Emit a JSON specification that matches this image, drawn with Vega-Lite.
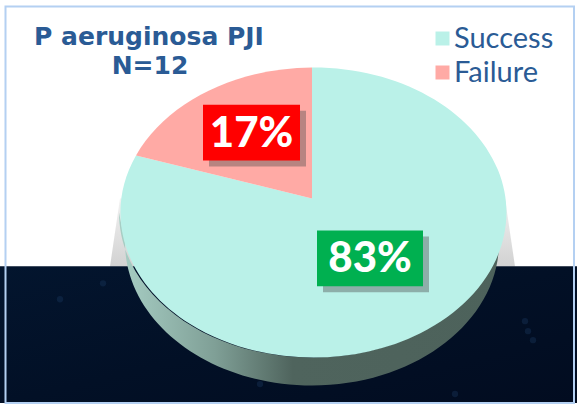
{
"$schema":"https://vega.github.io/schema/vega-lite/v6.json",
"width":577,"height":404,"padding":0,
"autosize":{"type":"fit","contains":"padding"},
"background":"white",
"config":{"view":{"stroke":null}},
"layer":[
{"data":{"values":[{"part":"shadow","cx":312,"cy":199}]},
 "mark":{"type":"point","filled":true,"opacity":1,"size":4,"fill":{"gradient":"linear","x1":0,"y1":0,"x2":0,"y2":1,"stops":[{"offset":0,"color":"#f2f2f2"},{"offset":1,"color":"#d2d2d2"}]},"shape":"M-192,0 L-202,68 L203,68 L193,0 Z"},
 "encoding":{"x":{"field":"cx","type":"quantitative","scale":{"domain":[0,577],"nice":false,"zero":false},"axis":null},
 "y":{"field":"cy","type":"quantitative","scale":{"domain":[404,0],"nice":false,"zero":false},"axis":null}}},
{"data":{"values":[{"x":0,"x2":577,"y":267,"y2":404}]},
 "mark":{"type":"rect","fill":{"gradient":"linear","x1":0,"y1":0,"x2":1,"y2":1,"stops":[{"offset":0,"color":"#03152e"},{"offset":0.5,"color":"#021026"},{"offset":1,"color":"#020c20"}]}},
 "encoding":{"x":{"field":"x","type":"quantitative"},"x2":{"field":"x2"},"y":{"field":"y","type":"quantitative"},"y2":{"field":"y2"}}},
{"data":{"values":[{"x":103,"y":284},{"x":525,"y":322},{"x":528,"y":332},{"x":533,"y":341},{"x":60,"y":300},{"x":260,"y":385},{"x":455,"y":395}]},
 "mark":{"type":"point","filled":true,"color":"#1d3d63","opacity":0.35,"size":40},
 "encoding":{"x":{"field":"x","type":"quantitative"},"y":{"field":"y","type":"quantitative"}}},
{"data":{"values":[{"part":"side","cx":312,"cy":199}]},
 "mark":{"type":"point","filled":true,"opacity":1,"size":4,"fill":{"gradient":"linear","x1":0,"y1":0,"x2":1,"y2":0,"stops":[{"offset":0,"color":"#a8cfc5"},{"offset":0.25,"color":"#7f9f96"},{"offset":0.45,"color":"#4f645d"},{"offset":1,"color":"#4d625b"}]},"shape":"M-193,14 A193,145 0 0 0 193,14 L187,44 A187,143 0 0 1 -187,44 Z"},
 "encoding":{"x":{"field":"cx","type":"quantitative"},"y":{"field":"cy","type":"quantitative"}}},
{"data":{"values":[{"part":"Success","outline":"a","share":83,"cx":312,"cy":199},{"part":"Failure","outline":"b","share":17,"cx":312,"cy":199}]},
 "mark":{"type":"point","filled":true,"opacity":1,"size":4},
 "encoding":{"x":{"field":"cx","type":"quantitative"},"y":{"field":"cy","type":"quantitative"},
 "shape":{"field":"outline","type":"nominal","legend":null,"scale":{"domain":["a","b"],"range":["M0,0 L0,-131 A193,145 0 1 1 -176,-43 Z","M0,0 L-176,-43 A193,145 0 0 1 0,-131 Z"]}},
 "color":{"field":"part","type":"nominal","scale":{"domain":["Success","Failure"],"range":["#baf1e8","#ffaaa5"]},
 "legend":{"title":null,"orient":"none","legendX":428,"legendY":24,"symbolType":"square","symbolSize":196,"symbolStrokeWidth":0,"labelFont":"Lato","labelFontSize":29,"labelColor":"#2a5b95","labelOffset":-3,"rowPadding":4,"labelLimit":200,"encode":{"symbols":{"update":{"shape":{"value":"square"},"size":{"value":196}}}}}}}},
{"data":{"values":[{"x":209,"x2":306,"y":111,"y2":167},{"x":323,"x2":429,"y":237,"y2":293}]},
 "mark":{"type":"rect","fill":"#4a4a4a","opacity":0.4},
 "encoding":{"x":{"field":"x","type":"quantitative"},"x2":{"field":"x2"},"y":{"field":"y","type":"quantitative"},"y2":{"field":"y2"}}},
{"data":{"values":[{"label":"17%","x":203,"x2":300,"y":105,"y2":161,"tx":251.5,"ty":147,"c":"#ff0000"},{"label":"83%","x":317,"x2":423,"y":231,"y2":287,"tx":370,"ty":273,"c":"#00b050"}]},
 "layer":[
 {"mark":{"type":"rect"},"encoding":{"x":{"field":"x","type":"quantitative"},"x2":{"field":"x2"},"y":{"field":"y","type":"quantitative"},"y2":{"field":"y2"},"fill":{"field":"c","type":"nominal","scale":null}}},
 {"mark":{"type":"text","font":"Lato","fontWeight":900,"fontSize":42,"color":"white","align":"center","baseline":"alphabetic"},"encoding":{"x":{"field":"tx","type":"quantitative"},"y":{"field":"ty","type":"quantitative"},"text":{"field":"label"}}}
 ]},
{"data":{"values":[{"t":"P aeruginosa PJI","x":149,"y":45},{"t":"N=12","x":150,"y":74}]},
 "mark":{"type":"text","font":"DejaVu Sans","fontWeight":"bold","fontSize":25,"color":"#2a5b95","align":"center","baseline":"alphabetic"},
 "encoding":{"x":{"field":"x","type":"quantitative"},"y":{"field":"y","type":"quantitative"},"text":{"field":"t"}}},
{"data":{"values":[{"x":5.5,"x2":574,"y":6.5,"y2":404}]},
 "mark":{"type":"rect","fill":null,"stroke":"#b4d0f2","strokeWidth":2},
 "encoding":{"x":{"field":"x","type":"quantitative"},"x2":{"field":"x2"},"y":{"field":"y","type":"quantitative"},"y2":{"field":"y2"}}}
]
}
